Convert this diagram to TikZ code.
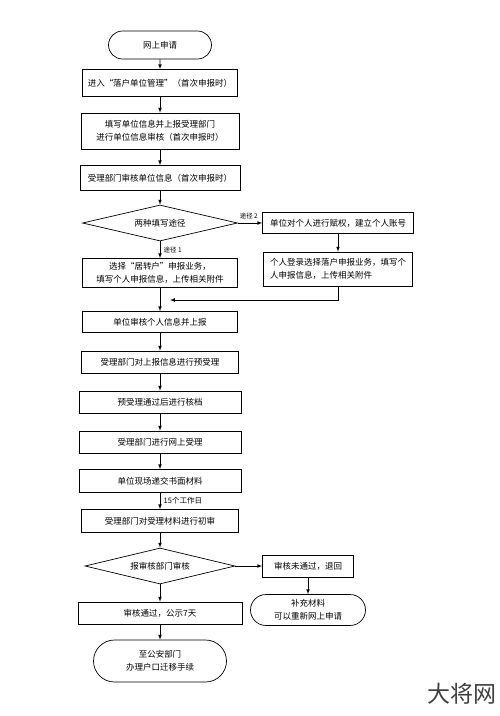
\documentclass[tikz,border=0pt]{standalone}
\usepackage{fontspec}
\setmainfont{Noto Sans CJK SC}
\usetikzlibrary{shapes.geometric,shapes.misc}

\tikzset{
	box/.style={draw,rectangle,align=center,inner sep=1pt,font=\fontsize{8.5}{12.5}\selectfont},
	term/.style={draw,rounded rectangle,align=center,inner sep=1pt,font=\fontsize{8.5}{12.5}\selectfont},
	choice/.style={draw,diamond,shape aspect=4.2,inner sep=0pt,font=\fontsize{8.5}{12.5}\selectfont},
	lbl/.style={font=\fontsize{6.5}{8}\selectfont}
}

\begin{document}
\begin{tikzpicture}[x=1pt,y=-1pt,line width=0.7pt]
	\useasboundingbox[fill=white] (0,0) rectangle (500,716);
	% main column
	\node[term,minimum width=105pt,minimum height=28pt] at (160,45) (start) {网上申请};
	\node[box,minimum width=155pt,minimum height=27pt] at (160,83) (enter) {进入“落户单位管理”（首次申报时）};
	\node[box,minimum width=158pt,minimum height=36pt] at (160,131) (fill) {填写单位信息并上报受理部门\\进行单位信息审核（首次申报时）};
	\node[box,minimum width=160pt,minimum height=25pt] at (160,178) (check) {受理部门审核单位信息（首次申报时）};
	\node[choice,minimum width=155pt,minimum height=36pt] at (160,223) (way) {两种填写途径};
	\node[box,minimum width=155pt,minimum height=29pt] at (160,273) (choose) {选择“居转户”申报业务，\\填写个人申报信息，上传相关附件};
	\node[box,minimum width=155pt,minimum height=21pt] at (160,322) (unit) {单位审核个人信息并上报};
	\node[box,minimum width=157pt,minimum height=22pt] at (160,362) (pre) {受理部门对上报信息进行预受理};
	\node[box,minimum width=162pt,minimum height=22pt] at (160,402) (file) {预受理通过后进行核档};
	\node[box,minimum width=162pt,minimum height=22pt] at (160,442) (online) {受理部门进行网上受理};
	\node[box,minimum width=162pt,minimum height=23pt] at (160,481) (paper) {单位现场递交书面材料};
	\node[box,minimum width=157pt,minimum height=23pt] at (160,521) (first) {受理部门对受理材料进行初审};
	\node[choice,minimum width=150pt,minimum height=36pt] at (160,566) (audit) {报审核部门审核};
	\node[box,minimum width=164pt,minimum height=22pt] at (160,613) (pass) {审核通过，公示7天};
	\node[term,minimum width=135pt,minimum height=42pt] at (160,661) (police) {至公安部门\\办理户口迁移手续};
	% right column
	\node[box,minimum width=151pt,minimum height=21pt] at (338,223) (auth) {单位对个人进行赋权，建立个人账号};
	\node[box,minimum width=149pt,minimum height=34pt,align=left] at (338,269) (login) {个人登录选择落户申报业务，填写个\\人申报信息，上传相关附件};
	\node[box,minimum width=91pt,minimum height=22pt] at (308,566) (reject) {审核未通过，退回};
	\node[term,minimum width=117pt,minimum height=31pt] at (308,610) (redo) {补充材料\\可以重新网上申请};
	\coordinate (join) at (170,300);
	\node[font=\fontsize{23}{23}\selectfont,text=black!75] at (462,694) (wm) {大将网};

	\path[-latex] (start) edge (enter)
		(enter) edge (fill)
		(fill) edge (check)
		(check) edge (way)
		(way) edge node[lbl,above,pos=0.45] {途径 2} (auth)
			edge node[lbl,right,pos=0.5] {途径 1} (choose)
		(auth) edge (login)
		(choose) edge (unit)
		(unit) edge (pre)
		(pre) edge (file)
		(file) edge (online)
		(online) edge (paper)
		(paper) edge node[lbl,right,font=\fontsize{7.5}{9}\selectfont] {15个工作日} (first)
		(first) edge (audit)
		(audit) edge (reject)
			edge (pass)
		(reject) edge (redo)
		(pass) edge (police);
	\draw[-latex] (login) |- (join);
\end{tikzpicture}
\end{document}
